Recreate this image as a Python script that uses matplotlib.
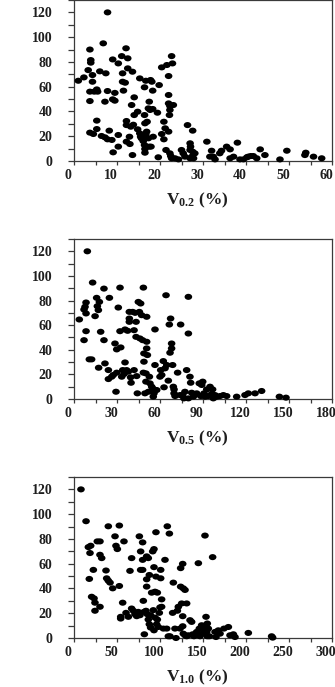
import matplotlib
matplotlib.use('Agg')
import matplotlib.pyplot as plt
import matplotlib.transforms as mtransforms
from matplotlib.path import Path
from matplotlib.ticker import MultipleLocator

# ---- data (x = V (%), y = value) ----
v02_x = [1.0, 2.3, 3.3, 3.7, 3.9, 3.9, 4.3, 4.3, 3.7, 4.7, 5.5, 5.3, 3.7, 3.7, 4.5, 5.3, 5.3,
         6.0, 6.8, 7.4, 7.2, 7.8, 6.4, 7.2, 7.8, 7.8, 9.0, 9.5, 9.5, 9.0, 9.1, 8.8, 8.2,
         10.3, 10.3, 10.3, 11.1, 11.3, 11.3, 11.5, 11.9, 12.1, 12.5, 12.5, 12.2, 12.2, 12.2,
         12.9, 13.0, 13.4, 13.6, 13.8, 13.6, 13.2, 14.0, 14.0, 14.8, 14.8, 15.3, 15.3, 15.5,
         15.7, 16.1, 16.4, 16.7, 16.4, 16.5, 16.1, 16.4, 16.5, 16.5, 16.7, 17.0, 16.9, 17.3,
         17.5, 17.7, 17.8, 18.1, 18.3, 18.3, 17.5, 17.9, 18.4, 17.3, 19.4, 19.8, 19.6, 20.4,
         20.4, 20.9, 20.9, 21.2, 21.4, 21.6, 22.0, 22.0, 22.0, 22.2, 22.3, 22.3, 22.0, 22.3,
         22.7, 22.9, 22.5, 22.7, 23.1, 23.5, 24.3, 25.0, 25.4, 25.8, 26.4, 27.0, 27.0, 27.1,
         27.4, 27.0, 27.6, 27.6, 28.1, 27.8, 30.9, 31.6, 32.0, 32.4, 32.8, 33.9, 34.3, 35.5,
         36.3, 36.3, 37.1, 38.0, 38.6, 39.4, 40.2, 40.5, 41.1, 41.7, 42.5, 43.3, 44.4, 47.9,
         49.5, 53.7, 53.9, 55.7, 57.6]
v02_y = [64.8, 67.5, 73.4, 90, 81.5, 79.4, 69.4, 64, 56, 56, 56, 57.8, 48.4, 22.9, 21.8, 32.6, 25.8,
         72.4, 95, 70.8, 47.9, 56.5, 20.2, 19.1, 17.5, 120, 49.8, 48.7, 55, 82, 7, 17, 24.5,
         78.8, 21, 11.6, 84.7, 70.8, 64, 56.8, 63.2, 91, 82.9, 74.8, 32.3, 29, 15.6,
         19.6, 13.7, 45.2, 72.1, 29.3, 4.8, 27.7, 51.4, 37.1, 39.8, 25.6, 66.7, 22.3, 19.6,
         18.3, 21, 59.5, 64.8, 37.1, 30.4, 16.1, 12.9, 9.7, 6.7, 21.5, 31.7, 23.7, 42.5,
         47.9, 41.2, 65.4, 64, 56.8, 42, 11.6, 11.6, 19.6, 18.3, 39, 61.3, 3, 75.6,
         21.8, 31.7, 17.5, 26.4, 8.9, 77.5, 68.6, 53.3, 46.5, 37.1, 41.2, 44.4, 23.7, 6.2,
         84.7, 78.8, 4, 2.2, 45.2, 2.2, 1.3, 8.9, 6.2, 3.5, 29, 8.9, 14.3, 11.6,
         3.5, 2.2, 24.5, 7.5, 6.2, 2.2, 15.6, 3.5, 8.3, 3.5, 1.3, 6.2, 8.3, 11.6,
         9.4, 2.2, 3.5, 14.8, 1.3, 1.3, 3, 3.5, 4, 4, 2.2, 9.4, 4.8, 1.3,
         8.3, 4.8, 6.7, 3.5, 2.2]

v05_x = [3.7, 7, 7.7, 8.4, 8.4, 8.4, 7, 9.3, 10.7, 12.3, 13, 14.7, 15.8, 16.3, 17, 17.7, 18.6,
         17.2, 20.9, 20.9, 21.6, 24.7, 24, 24, 26.3, 27.4, 28.6, 29.3, 29.8, 29.8, 30.9, 32.1,
         32.1, 32.6, 33.3, 34, 34.9, 35.6, 35.6, 37.4, 36.7, 37.9, 38.6, 38.6, 38.6, 39.5, 39.8,
         40.9, 41.9, 41.9, 42.6, 43.3, 43.3, 43.7, 44.2, 44.9, 45.6, 46, 46.5, 47.2, 47.9, 48.4,
         48.4, 48.8, 48.8, 49.5, 50.2, 50.2, 50.7, 50.7, 50.7, 51.2, 51.9, 52.6, 53, 54.2, 54.9,
         55.3, 55.8, 56.5, 56.5, 57.7, 60, 60.5, 61.2, 62.3, 62.8, 63.5, 64.2, 64.7, 65.8, 66.5,
         67, 67.4, 68.1, 68.1, 68.8, 69.3, 69.8, 69.8, 70.5, 72.3, 74, 74.4, 75.8, 76.7, 77.4,
         78.6, 79.8, 79.8, 79.8, 80.9, 81.4, 82.1, 83.3, 85.6, 87.4, 88.4, 89.1, 89.8, 90.7,
         91.4, 92.6, 93.7, 94.9, 96, 96.7, 97.2, 98.4, 99.5, 101.9, 104.2, 106.5, 113.5, 119.3,
         121.6, 126.3, 130.9, 143.3, 147.9]
v05_y = [64.6, 72.7, 74.9, 78.4, 69.5, 55.1, 47.8, 120, 32.2, 32.2, 94.6, 67.3, 82.2, 75.4, 72.2, 78.9, 54.6,
         25.4, 89.7, 47.8, 28.9, 82.2, 23.5, 16.2, 18.1, 19.5, 45.1, 5.9, 40.3, 21.4, 74.3, 90.5,
         55.1, 41.9, 18.1, 23.5, 20.3, 29.7, 56.5, 55.4, 23.5, 22.2, 62.7, 65.4, 70.8, 17.6, 13.2,
         70.8, 55.9, 23.5, 70, 62.7, 50.5, 18.6, 4.6, 78.9, 70.8, 49.2, 77.6, 68.1, 47.8, 21.4,
         90.5, 30.3, 37, 4.6, 20.8, 14.1, 46.5, 66.8, 41.1, 35.7, 5.9, 18.1, 12.7, 10, 8.6,
         1.9, 4.6, 56.5, 27.6, 7.3, 18.1, 23.5, 19.5, 30.8, 9.5, 24.9, 84.3, 27.6, 14.9, 60.5,
         37.6, 65.4, 45.1, 41.1, 27.6, 10, 7.8, 4.6, 2.4, 21.4, 3.2, 60.5, 3.2, 0.5, 5.9,
         23.5, 83, 53.2, 0.5, 18.1, 13.2, 5.1, 1.9, 4.6, 12.7, 2.4, 11.4, 14.1, 4.6,
         1.9, 7.8, 2.4, 10, 4.1, 7.8, 0.5, 3.2, 1.9, 2.4, 3.2, 2.4, 1.9, 3.2,
         4.6, 4.6, 6.5, 1.9, 1.1]

v10_x = [8.1, 14, 16.7, 19.4, 18.6, 17.8, 20.5, 23.3, 22.5, 24.4, 24.4, 27.1, 30.2, 30.2, 32.2, 30.2,
         37.2, 38, 39.9, 41.9, 39.9, 45, 47.7, 48.8, 50.4, 52.7, 52.7, 54.3, 54.3, 56.6, 58.1, 60.5,
         63.2, 65.1, 67, 67, 69, 70.9, 72.9, 74.8, 76, 76.7, 77.5, 77.5, 79.8, 79.8, 79.8, 80.6,
         81.4, 81.8, 83.7, 84.5, 84.5, 84.5, 85.3, 86.4, 86.4, 87.6, 87.6, 89.1, 89.1, 90.3, 91.5,
         92.2, 93, 93, 93, 94.2, 94.2, 95.3, 95.3, 96.1, 96.9, 96.9, 98.1, 99.2, 100, 100.8, 100.8,
         101.9, 101.9, 103.9, 105.8, 107.8, 108.5, 110.9, 109.7, 111.6, 114.7, 115.5, 117.4, 118.6,
         120.2, 121.3, 123.3, 124, 124, 125.2, 126.4, 126.4, 126.4, 127.1, 127.1, 129.1, 129.1, 131,
         131, 132.9, 134.9, 136.8, 138, 139.5, 142.6, 144.6, 144.6, 145.7, 146.5, 148.4, 149.6,
         151.2, 152.3, 153.5, 153.5, 154.3, 155, 155, 156.2, 157.4, 161.2, 164, 165.1, 167.8, 169.8,
         174.4, 179.5, 181.4, 185.3, 187.2, 202.7, 229.8, 231]
v10_y = [120, 94.3, 73.4, 74.5, 68.6, 47.7, 33.3, 32, 55, 28.5, 22, 78, 78, 67.2, 64.5, 25.2,
         54.5, 48.2, 46.3, 44.7, 90.2, 40.1, 82.1, 74.5, 71.8, 90.8, 42, 17.1, 15.7, 28.5, 78, 20.3,
         17.1, 54.2, 64.5, 23.8, 22, 19.2, 17.6, 21.1, 82.1, 18.4, 69.9, 55, 55, 77.2, 63.1, 30,
         21.1, 3, 22, 41.5, 47.4, 65.9, 19.2, 14.9, 64.5, 11.1, 50.9, 8.4, 18.4, 36.6, 69.9,
         22.5, 71.8, 57.2, 6.2, 37.4, 16.5, 85.4, 49.6, 11.1, 36.6, 14.9, 8.9, 20.3, 24.7, 48.2, 55,
         25.2, 31.2, 7.6, 63.1, 7.6, 90.2, 84.3, 1.4, 1.4, 20.3, 44.7, 7.6, 0,
         22, 25.2, 7.6, 41.5, 56.4, 27.9, 59.9, 17.6, 9.5, 40.1, 3.5, 38.8, 2.2, 27.9,
         1.4, 2.2, 14.4, 13, 3, 1.4, 4.9, 60.4, 3.5, 7.6, 1.4, 10.3, 3.5,
         7.6, 82.7, 17.1, 10.3, 4.9, 11.7, 1.4, 7.6, 1.4, 65.3, 4.9, 0.8, 6.2, 3.5,
         7.6, 8.9, 2.2, 3, 0.8, 4.1, 1.4, 0.3]

panels = [
    (v02_x, v02_y, 60, 10, r'$\mathregular{V_{0.2}}$ (%)'),
    (v05_x, v05_y, 180, 30, r'$\mathregular{V_{0.5}}$ (%)'),
    (v10_x, v10_y, 300, 50, r'$\mathregular{V_{1.0}}$ (%)'),
]

plt.rcParams['font.family'] = 'Liberation Serif'
plt.rcParams['font.weight'] = 'bold'
plt.rcParams['mathtext.fontset'] = 'custom'
plt.rcParams['mathtext.rm'] = 'Liberation Serif:bold'
plt.rcParams['mathtext.it'] = 'Liberation Serif:bold'
plt.rcParams['mathtext.bf'] = 'Liberation Serif:bold'

TXT = '#1e1e1e'
SPINE = '#3a3a3a'

# slightly wide dots, like the scanned original
circ = Path.unit_circle()
dot = Path(circ.vertices * [1.25, 1.0], circ.codes)

fig = plt.figure(figsize=(3.35, 6.87), dpi=100)
# axes boxes in pixels: (left, top, right, bottom)
boxes = [(74, 0, 332, 161), (74, 239, 332, 399), (74, 477, 332, 638)]
W, H = 335.0, 687.0
shift = mtransforms.ScaledTranslation(-6 / 100, 0, fig.dpi_scale_trans)

for (x, y, xmax, xstep, xlabel), (l, t, r, b) in zip(panels, boxes):
    ax = fig.add_axes([l / W, (H - b) / H, (r - l) / W, (b - t) / H])
    ax.scatter(x, y, s=30, marker=dot, color='black', edgecolors='none', clip_on=False, zorder=3)
    ax.set_xlim(0, xmax)
    ax.set_ylim(0, 130)
    ax.xaxis.set_major_locator(MultipleLocator(xstep))
    ax.xaxis.set_minor_locator(MultipleLocator(xstep / 2))
    ax.set_yticks(range(0, 121, 20))
    ax.yaxis.set_minor_locator(MultipleLocator(10))
    ax.tick_params(which='both', direction='out', width=0.9, color=SPINE,
                   top=False, right=False)
    ax.tick_params(axis='x', which='both', length=3)
    ax.tick_params(axis='y', which='both', length=4.5)
    ax.tick_params(axis='y', pad=11, labelsize=10, labelcolor=TXT)
    ax.tick_params(axis='x', pad=2.5, labelsize=10, labelcolor=TXT)
    for lab in ax.get_xticklabels() + ax.get_yticklabels():
        lab.set_fontweight('bold')
    for sp in ax.spines.values():
        sp.set_color(SPINE)
        sp.set_linewidth(0.9)
    for lab in ax.get_xticklabels():
        lab.set_transform(lab.get_transform() + shift)
    ax.set_xlabel(xlabel, fontsize=12.5, color=TXT, fontweight='bold')
    ax.xaxis.set_label_coords(0.48, -0.185)

fig.savefig('out.png', dpi=100)
